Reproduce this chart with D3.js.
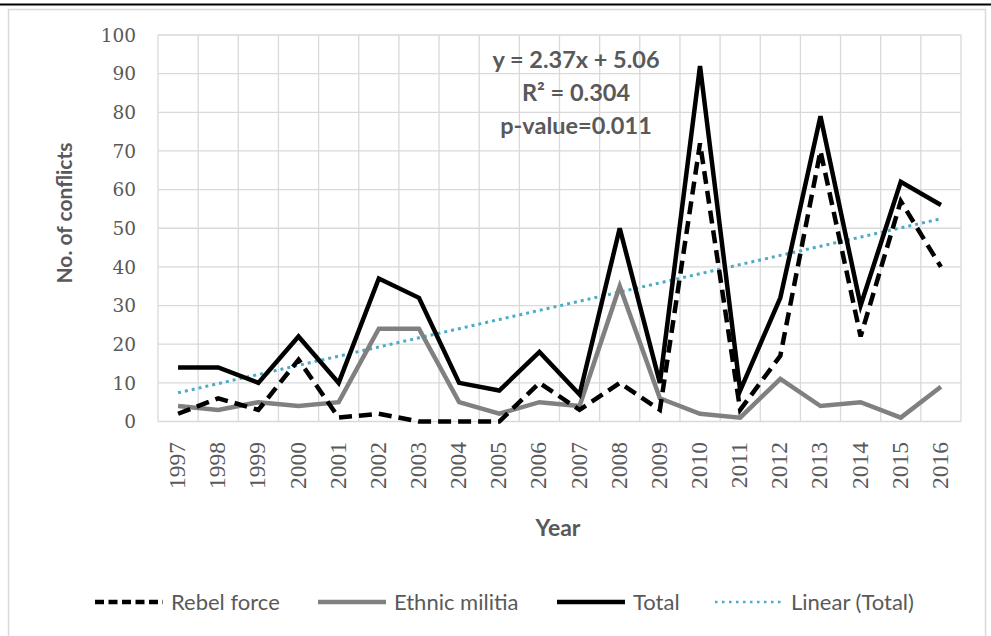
<!DOCTYPE html>
<html>
<head>
<meta charset="utf-8">
<script src="https://cdn.jsdelivr.net/npm/d3@7"></script>
<style>
  body { margin: 0; background: #fff; }
  svg { display: block; }
</style>
</head>
<body>
<svg width="991" height="636"></svg>
<script>
// data
var years = ["1997","1998","1999","2000","2001","2002","2003","2004","2005","2006",
             "2007","2008","2009","2010","2011","2012","2013","2014","2015","2016"];
var rebel = [2,6,3,16,1,2,0,0,0,10,3,10,3,72,3,17,70,22,57,40];
var ethnic = [4,3,5,4,5,24,24,5,2,5,4,35,6,2,1,11,4,5,1,9];
var total = [14,14,10,22,10,37,32,10,8,18,7,50,10,92,8,32,79,30,62,56];
var yTicks = [0,10,20,30,40,50,60,70,80,90,100];
// trendline as printed on the chart
var slope = 2.37, intercept = 5.06;
var eqLines = ["y = 2.37x + 5.06", "R\u00b2 = 0.304", "p-value=0.011"];

var svg = d3.select("svg");
var plotLeft = 158, plotRight = 961, plotTop = 35, plotBottom = 421.5;

// frame
svg.append("rect")
    .attr("x", 8.5).attr("y", 9.5)
    .attr("width", 977).attr("height", 640)
    .attr("fill", "none").attr("stroke", "#d9d9d9").attr("stroke-width", 1.5);
svg.append("line")
    .attr("x1", 0).attr("x2", 991).attr("y1", 4.5).attr("y2", 4.5)
    .attr("stroke", "#000").attr("stroke-width", 2);

var x = d3.scaleBand().domain(years).range([plotLeft, plotRight]);
var y = d3.scaleLinear().domain([0, 100]).range([plotBottom, plotTop]);
var cx = function(d, i){ return x(years[i]) + x.bandwidth() / 2; };

var grid = svg.append("g");
grid.selectAll("line.h").data(yTicks).enter().append("line")
    .attr("x1", plotLeft).attr("x2", plotRight)
    .attr("y1", function(d){ return y(d); }).attr("y2", function(d){ return y(d); })
    .attr("stroke", "#d9d9d9").attr("stroke-width", 1.3);
grid.selectAll("line.v").data(years.concat(["end"])).enter().append("line")
    .attr("x1", function(d, i){ return plotLeft + i * x.bandwidth(); })
    .attr("x2", function(d, i){ return plotLeft + i * x.bandwidth(); })
    .attr("y1", plotTop).attr("y2", plotBottom)
    .attr("stroke", "#d9d9d9").attr("stroke-width", 1.3);

// y tick labels
svg.append("g").selectAll("text").data(yTicks).enter().append("text")
    .attr("x", 136).attr("y", function(d){ return y(d); })
    .attr("dy", "0.36em")
    .attr("text-anchor", "end")
    .style("font-family", "DejaVu Serif").style("font-size", "18.5px")
    .style("fill", "#595959")
    .text(function(d){ return d; });

// x tick labels, rotated
svg.append("g").selectAll("text").data(years).enter().append("text")
    .attr("transform", function(d, i){ return "translate(" + (cx(d, i) + 7) + "," + 442 + ") rotate(-90)"; })
    .attr("text-anchor", "end")
    .style("font-family", "Liberation Serif").style("font-size", "23.5px")
    .style("fill", "#595959")
    .text(function(d){ return d; });

// axis titles
svg.append("text")
    .attr("transform", "translate(72,213) rotate(-90)")
    .attr("text-anchor", "middle")
    .style("font-family", "Lato").style("font-weight", "bold").style("font-size", "21px")
    .style("fill", "#595959")
    .text("No. of conflicts");
svg.append("text")
    .attr("x", 558).attr("y", 536)
    .attr("text-anchor", "middle")
    .style("font-family", "Lato").style("font-weight", "bold").style("font-size", "23px")
    .style("fill", "#595959")
    .text("Year");

var line = d3.line().x(cx).y(function(d){ return y(d); });

// trendline
var trend = years.map(function(d, i){ return slope * (i + 1) + intercept; });
svg.append("path").datum(trend)
    .attr("d", line).attr("fill", "none")
    .attr("stroke", "#4bacc6").attr("stroke-width", 3)
    .attr("stroke-dasharray", "3 4");

svg.append("path").datum(ethnic)
    .attr("d", line).attr("fill", "none")
    .attr("stroke", "#808080").attr("stroke-width", 4.5);
svg.append("path").datum(rebel)
    .attr("d", line).attr("fill", "none")
    .attr("stroke", "#000").attr("stroke-width", 4.5)
    .attr("stroke-dasharray", "13 7");
svg.append("path").datum(total)
    .attr("d", line).attr("fill", "none")
    .attr("stroke", "#000").attr("stroke-width", 4.5);

// equation box
svg.append("g").selectAll("text").data(eqLines).enter().append("text")
    .attr("x", 576).attr("y", function(d, i){ return 60 + i * 33; })
    .attr("dy", "0.35em")
    .attr("text-anchor", "middle")
    .style("font-family", "Lato").style("font-weight", "bold").style("font-size", "23.5px")
    .style("fill", "#595959")
    .text(function(d){ return d; });

// legend
var legendItems = [
    {name: "Rebel force", x: 95, color: "#000", width: 4.5, dash: "9 4.5"},
    {name: "Ethnic militia", x: 318, color: "#808080", width: 4.5, dash: null},
    {name: "Total", x: 557, color: "#000", width: 4.5, dash: null},
    {name: "Linear (Total)", x: 715, color: "#4bacc6", width: 2.5, dash: "2.5 4.5"}
];
var lg = svg.append("g").selectAll("g").data(legendItems).enter().append("g")
    .attr("transform", function(d){ return "translate(" + d.x + ",602)"; });
lg.append("line")
    .attr("x1", 0).attr("x2", 68).attr("y1", 0).attr("y2", 0)
    .attr("stroke", function(d){ return d.color; })
    .attr("stroke-width", function(d){ return d.width; })
    .attr("stroke-dasharray", function(d){ return d.dash; });
lg.append("text")
    .attr("x", 76)
    .attr("dy", "0.35em")
    .style("font-family", "Lato").style("font-size", "22px")
    .style("fill", "#595959")
    .text(function(d){ return d.name; });
</script>
</body>
</html>
